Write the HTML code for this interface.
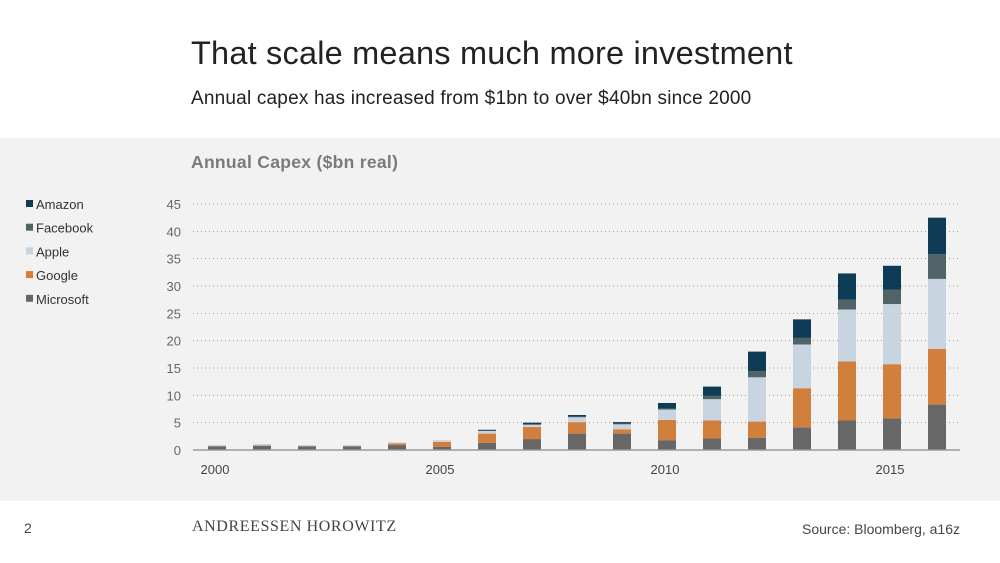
<!DOCTYPE html>
<html><head><meta charset="utf-8"><style>
body{margin:0;width:1000px;height:563px;background:#fff;font-family:"Liberation Sans",sans-serif;position:relative;overflow:hidden}
.t{position:absolute;white-space:nowrap}
</style></head><body>
<div class="t" style="left:191px;top:35px;font-size:32.5px;letter-spacing:0.2px;color:#222">That scale means much more investment</div>
<div class="t" style="left:191px;top:88px;font-size:19px;letter-spacing:0.2px;color:#222">Annual capex has increased from $1bn to over $40bn since 2000</div>
<div style="position:absolute;left:0;top:138px;width:1000px;height:363px;background:#f2f2f2"></div>
<svg width="1000" height="563" style="position:absolute;left:0;top:0" id="svg"></svg>
<div class="t" style="left:24px;top:520px;font-size:14px;color:#444">2</div>
<div class="t" style="left:192px;top:518px;font-size:16px;letter-spacing:0.6px;color:#444;font-family:'Liberation Serif',serif">ANDREESSEN HOROWITZ</div>
<div class="t" style="right:40px;top:521px;font-size:14px;color:#444">Source: Bloomberg, a16z</div>
<script>
const years=[2000,2001,2002,2003,2004,2005,2006,2007,2008,2009,2010,2011,2012,2013,2014,2015,2016];
const microsoft=[0.7,0.8,0.7,0.7,0.9,0.6,1.3,2.0,3.0,3.0,1.8,2.1,2.2,4.1,5.4,5.8,8.3];
const google=[0,0,0,0,0.3,0.9,1.7,2.2,2.1,0.8,3.7,3.3,3.0,7.2,10.8,9.9,10.2];
const apple=[0.2,0.3,0.2,0.2,0.2,0.3,0.5,0.4,0.9,0.9,1.9,3.9,8.1,8.0,9.5,11.0,12.8];
const facebook=[0,0,0,0,0,0,0,0.1,0.1,0.1,0.2,0.6,1.1,1.2,1.8,2.6,4.5];
const amazon=[0,0,0,0,0,0,0.2,0.3,0.3,0.3,1.0,1.7,3.6,3.4,4.8,4.4,6.7];
const yTicks=[0,5,10,15,20,25,30,35,40,45];
const xLabels=[2000,2005,2010,2015];
const series=[["Microsoft",microsoft,"#676767"],["Google",google,"#d17f3d"],["Apple",apple,"#c9d4e1"],["Facebook",facebook,"#506468"],["Amazon",amazon,"#0e3c57"]];
const svg=document.getElementById('svg'),NS='http://www.w3.org/2000/svg';
const y=v=>450-v*(246/45), x=yr=>217+(yr-2000)*45;
function el(t,a,txt){const e=document.createElementNS(NS,t);for(const k in a)e.setAttribute(k,a[k]);if(txt!=null)e.textContent=txt;svg.appendChild(e);return e;}
let e=el('text',{x:191,y:168,'font-size':17.5,'font-weight':'bold','letter-spacing':0.3,fill:'#7a7a7a'},'Annual Capex ($bn real)');

yTicks.forEach(v=>{
 if(v>0){e=el('line',{x1:193,x2:958,y1:y(v),y2:y(v),stroke:'#999','stroke-dasharray':'1 3'});
 }
 e=el('text',{x:181,y:y(v)+5,'font-size':13,fill:'#666','text-anchor':'end'},v);
 
});
years.forEach((yr,i)=>{let acc=0;series.forEach(s=>{const v=s[1][i];if(v>0){
 e=el('rect',{x:x(yr)-9,width:18,y:y(acc+v),height:y(acc)-y(acc+v),fill:s[2]});
 }
 acc+=v;});});
e=el('line',{x1:193,x2:960,y1:450,y2:450,stroke:'#999','stroke-width':1.5});

xLabels.forEach(yr=>{e=el('text',{x:x(yr)-2,y:474,'font-size':13,fill:'#444','text-anchor':'middle'},yr);
 });
series.slice().reverse().forEach((s,i)=>{const ly=204+i*23.7;
 e=el('rect',{x:26,y:ly-4,width:7,height:7,fill:s[2]});
 
 e=el('text',{x:36,y:ly+5,'font-size':13,fill:'#333'},s[0]);
 });
</script>
</body></html>
